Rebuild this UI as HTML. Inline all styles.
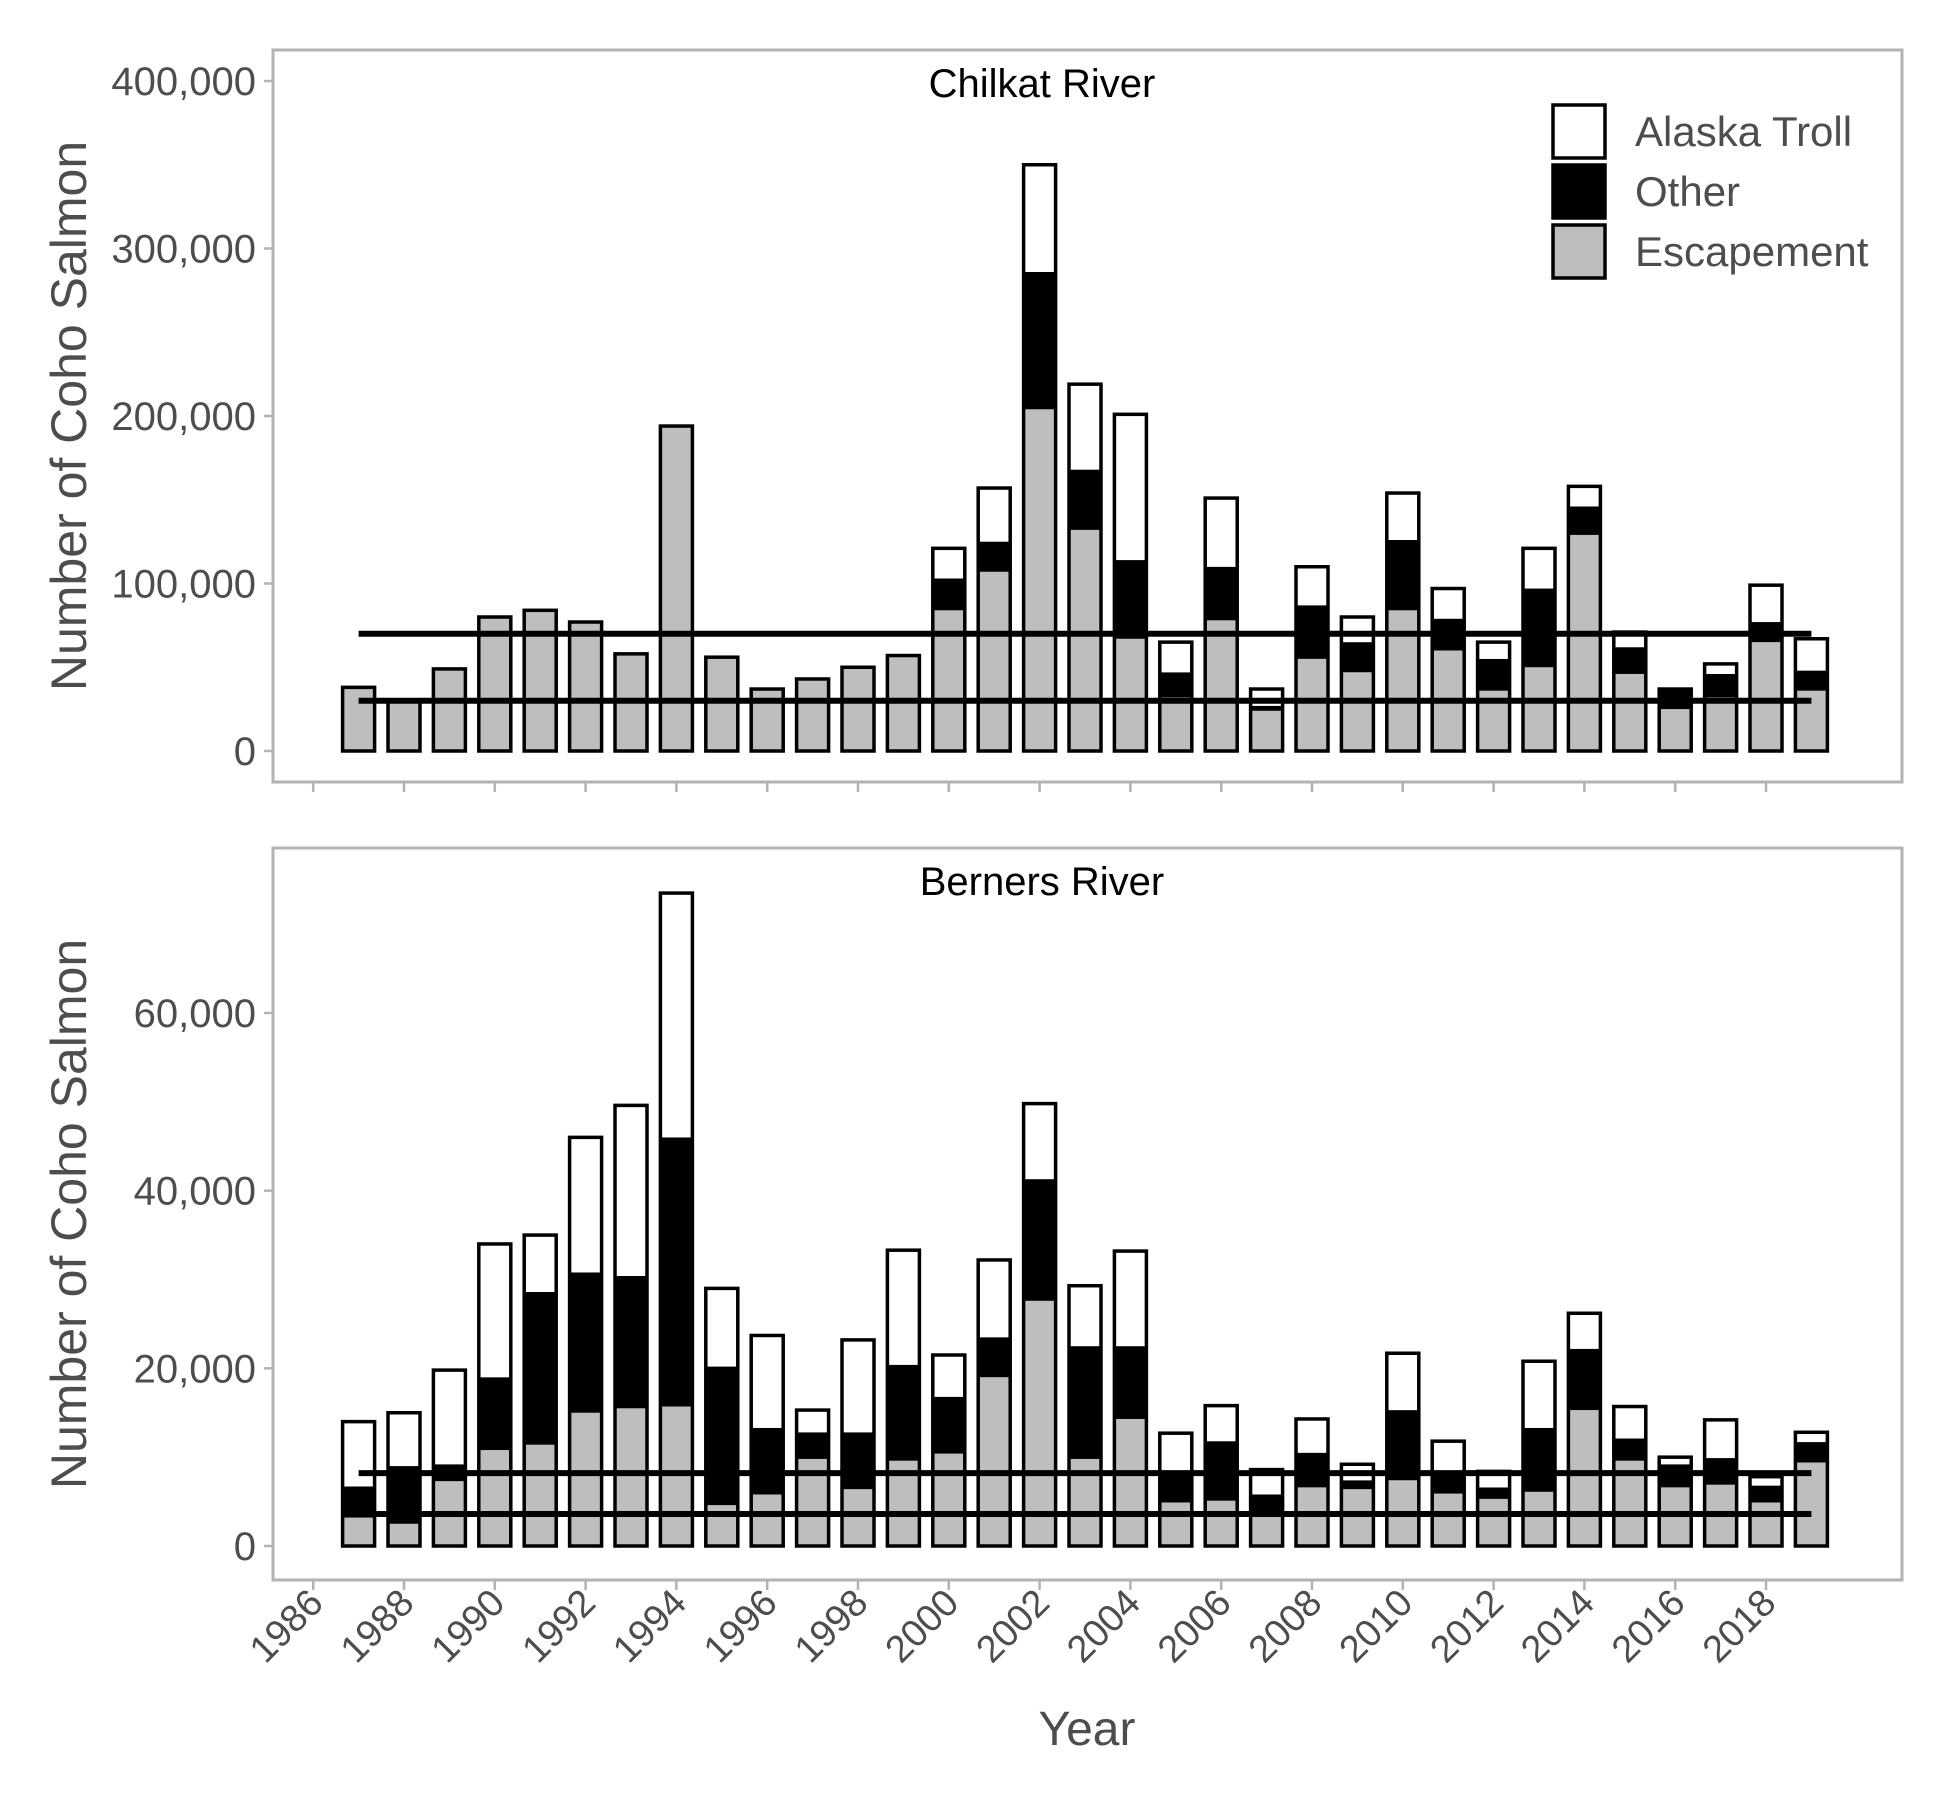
<!DOCTYPE html>
<html><head><meta charset="utf-8"><style>
body{margin:0;background:#fff;}
svg text{font-family:"Liberation Sans",Arial,sans-serif;}
</style></head><body>
<svg id="chart" width="1950" height="1800" viewBox="0 0 1950 1800" xmlns="http://www.w3.org/2000/svg"></svg>
<script>
const years=[1987,1988,1989,1990,1991,1992,1993,1994,1995,1996,1997,1998,1999,2000,2001,2002,2003,2004,2005,2006,2007,2008,2009,2010,2011,2012,2013,2014,2015,2016,2017,2018,2019];
// Chilkat cumulative: escapement, esc+other, total (esc+other+troll)
const chilkatEsc=[38000,30000,49000,80000,84000,77000,58000,194000,56000,37000,43000,50000,57000,84000,107000,204000,132000,67000,32000,78000,24000,55000,47000,84000,60000,36000,50000,129000,46000,25000,32000,65000,36000];
const chilkatOther=[38000,30000,49000,80000,84000,77000,58000,194000,56000,37000,43000,50000,57000,103000,125000,286000,168000,114000,47000,110000,27000,87000,65000,126000,79000,55000,97000,146000,62000,37000,46000,77000,48000];
const chilkatTotal=[38000,30000,49000,80000,84000,77000,58000,194000,56000,37000,43000,50000,57000,121000,157000,350000,219000,201000,65000,151000,37000,110000,80000,154000,97000,65000,121000,158000,71000,37000,52000,99000,67000];
const chilkatGoals=[70000,30000];
const bernersEsc=[3200,2500,7300,10800,11400,15000,15500,15700,4600,5800,9800,6400,9600,10400,19000,27600,9800,14300,4900,5100,3800,6600,6400,7400,5900,5300,6100,15300,9600,6600,6900,4900,9400];
const bernersOther=[6700,9000,9200,19000,28600,30800,30400,46000,20200,13300,12800,12800,20400,16800,23500,41300,22500,22500,8200,11800,5800,10500,7400,15300,8200,6600,13300,22200,12100,9200,9900,6800,11700];
const bernersTotal=[14000,15000,19800,34000,35000,46000,49600,73500,29000,23700,15300,23200,33300,21500,32200,49800,29300,33200,12700,15800,8600,14300,9200,21700,11800,8400,20800,26200,15700,10000,14200,7800,12800];
const bernersGoals=[8200,3600];
const chilkatTicks=[0,100000,200000,300000,400000];
const bernersTicks=[0,20000,40000,60000];
const xTickYears=[1986,1988,1990,1992,1994,1996,1998,2000,2002,2004,2006,2008,2010,2012,2014,2016,2018];

const svg=document.getElementById('chart');
const NS='http://www.w3.org/2000/svg';
function mk(tag,attrs,parent){const e=document.createElementNS(NS,tag);for(const k in attrs)e.setAttribute(k,attrs[k]);(parent||svg).appendChild(e);return e;}
const xS=yr=>1766+(yr-2018)*45.4;
const fmt=v=>v.toLocaleString('en-US');

function panel(name,title,top,bottom,y0,yMaxPx,yMaxVal,ticks,esc,oth,tot,goals){
  const yS=v=>y0-(v/yMaxVal)*(y0-yMaxPx);
  const g=mk('g',{});
  
  
  ticks.forEach(t=>{
    const tk=mk('line',{x1:264,x2:273,y1:yS(t),y2:yS(t),stroke:'#b3b3b3','stroke-width':2.5},g);
    
    
    const tl=mk('text',{x:256,y:yS(t)+14,'text-anchor':'end','font-size':40,fill:'#4d4d4d'},g);
    tl.textContent=fmt(t);
    
    
  });
  xTickYears.forEach(yr=>{
    const tk=mk('line',{x1:xS(yr),x2:xS(yr),y1:bottom,y2:bottom+10,stroke:'#b3b3b3','stroke-width':2.5},g);
    
    
  });
  const bw=32;
  years.forEach((yr,i)=>{
    const x=xS(yr)-bw/2;
    const bg=mk('g',{},g);
    
    
    const segs=[[0,esc[i],'#bebebe','escapement'],[esc[i],oth[i],'#000','other'],[oth[i],tot[i],'#fff','troll']];
    segs.forEach(s=>{
      if(s[1]-s[0]<=0)return;
      const r=mk('rect',{x:x,y:yS(s[1]),width:bw,height:yS(s[0])-yS(s[1]),fill:s[2]},bg);
      
      
    });
    const o=mk('rect',{x:x,y:yS(tot[i]),width:bw,height:yS(0)-yS(tot[i]),fill:'none',stroke:'#000','stroke-width':3.5},bg);
    
    
  });
  goals.forEach(gv=>{
    const l=mk('line',{x1:xS(years[0]),x2:xS(years[years.length-1]),y1:yS(gv),y2:yS(gv),stroke:'#000','stroke-width':6},g);
    
    
  });
  const fr=mk('rect',{x:273,y:top,width:1629,height:bottom-top,fill:'none',stroke:'#b3b3b3','stroke-width':3},g);
  
  
  const tt=mk('text',{x:1042,y:top+47,'text-anchor':'middle','font-size':40,fill:'#000'},g);
  tt.textContent=title;
  
  
  const yt=mk('text',{x:0,y:0,'text-anchor':'middle','font-size':50,fill:'#4d4d4d',transform:`translate(86,${(top+bottom)/2}) rotate(-90)`},g);
  yt.textContent='Number of Coho Salmon';
  
  
}
panel('chilkat','Chilkat River',50,782,751,81,400000,chilkatTicks,chilkatEsc,chilkatOther,chilkatTotal,chilkatGoals);
panel('berners','Berners River',848,1580,1546,1013,60000,bernersTicks,bernersEsc,bernersOther,bernersTotal,bernersGoals);

xTickYears.forEach(yr=>{
  const t=mk('text',{x:0,y:0,'text-anchor':'end','font-size':38,fill:'#4d4d4d',transform:`translate(${xS(yr)+12},${1605}) rotate(-45)`});
  t.textContent=yr;
  
  
});
const xt=mk('text',{x:1087,y:1745,'text-anchor':'middle','font-size':48,fill:'#4d4d4d'});
xt.textContent='Year';



const legendLabels=['Alaska Troll','Other','Escapement'];
const legendFills=['#fff','#000','#bebebe'];
legendLabels.forEach((lab,i)=>{
  const y=105+i*60;
  const g=mk('g',{});
  
  
  mk('rect',{x:1553,y:y,width:52,height:53,fill:legendFills[i],stroke:'#000','stroke-width':3.5},g);
  const t=mk('text',{x:1635,y:y+41,'font-size':42,fill:'#4d4d4d'},g);
  t.textContent=lab;
});
</script>
</body></html>
